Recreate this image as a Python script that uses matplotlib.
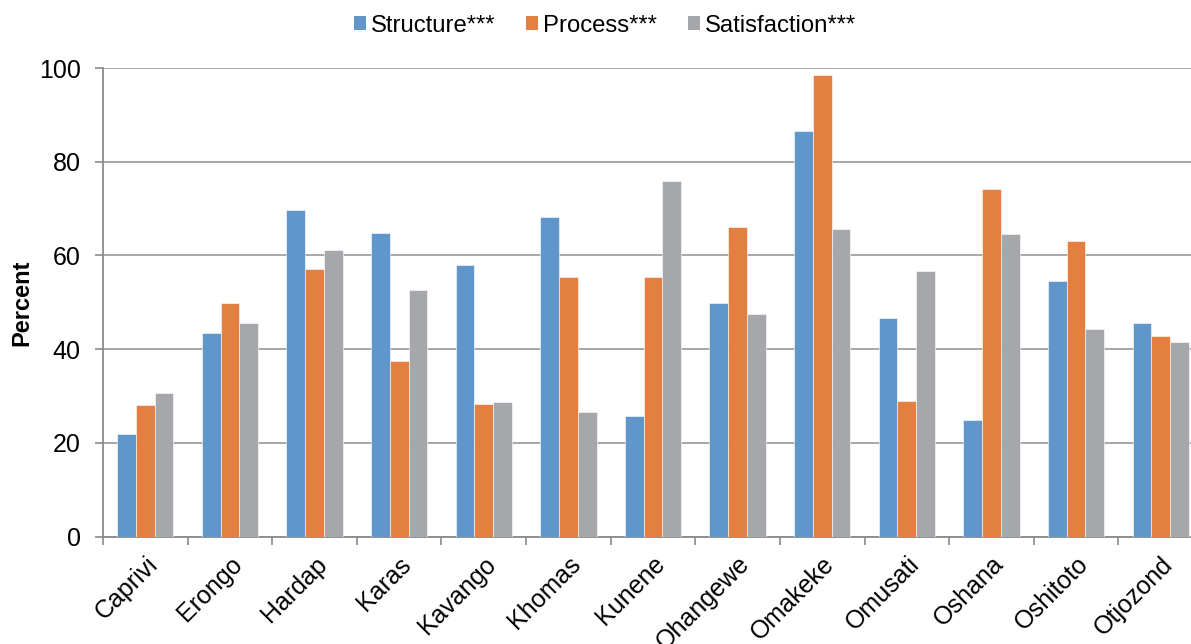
import matplotlib
matplotlib.use("Agg")
import matplotlib.pyplot as plt
import numpy as np
from matplotlib.patches import Patch

plt.rcParams['font.family'] = ['Liberation Sans', 'DejaVu Sans']

regions = ["Caprivi", "Erongo", "Hardap", "Karas", "Kavango", "Khomas", "Kunene",
           "Ohangewe", "Omakeke", "Omusati", "Oshana", "Oshitoto", "Otjozond"]
structure = [22.0, 43.4, 69.8, 64.9, 58.0, 68.3, 25.8, 49.9, 86.6, 46.7, 24.9, 54.5, 45.7]
process = [28.2, 49.8, 57.1, 37.4, 28.3, 55.5, 55.5, 66.0, 98.4, 28.9, 74.2, 63.1, 42.8]
satisfaction = [30.7, 45.7, 61.2, 52.6, 28.8, 26.5, 75.9, 47.5, 65.6, 56.6, 64.6, 44.3, 41.6]

series_names = ["Structure***", "Process***", "Satisfaction***"]
colors = ["#6196CA", "#E37F40", "#A6A7AA"]

fig = plt.figure(figsize=(11.91, 6.44), dpi=100)
W, H = 1191, 644
left, right, top, bottom = 103, 1203, 68, 536.7
ax = fig.add_axes([left / W, 1 - bottom / H, (right - left) / W, (bottom - top) / H])

x = np.arange(len(regions))
bw = 0.222
for i, (vals, c) in enumerate(zip([structure, process, satisfaction], colors)):
    ax.bar(x + (i - 1) * bw, vals, width=bw, color=c, edgecolor="white", linewidth=0.4, zorder=3)

ax.set_xlim(-0.5, len(regions) - 0.5)
ax.set_ylim(0, 100)
ax.set_yticks(np.arange(0, 101, 20))
ax.yaxis.grid(True, color="#A0A0A0", linewidth=1.3, zorder=0)
ax.set_axisbelow(True)

for s in ["top", "right"]:
    ax.spines[s].set_visible(False)
for s in ["left", "bottom"]:
    ax.spines[s].set_color("#8A8A8A")
    ax.spines[s].set_linewidth(1.3)

ax.tick_params(axis="y", length=6, width=1.2, color="#8A8A8A", labelsize=18, pad=10)
# category boundaries carry the ticks, labels sit at category centres
ax.set_xticks(np.arange(len(regions) + 1) - 0.5)
ax.set_xticklabels([])
ax.tick_params(axis="x", which="major", length=6, width=1.2, color="#8A8A8A")
ax.set_xticks(x, minor=True)
ax.set_xticklabels(regions, minor=True, rotation=45, ha="right", rotation_mode="anchor",
                   fontsize=18)
ax.tick_params(axis="x", which="minor", length=0, pad=11)

fig.text(22 / W, 1 - 302.5 / H, "Percent", rotation=90, ha="center", va="center",
         fontsize=17, fontweight="bold")

handles = [Patch(facecolor=c, edgecolor="none") for c in colors]
fig.legend(handles, series_names, loc="center", bbox_to_anchor=(605 / W, 1 - 25.5 / H),
           ncol=3, frameon=False, fontsize=17.2, handlelength=0.5, handleheight=0.5,
           handletextpad=0.2, columnspacing=1.3, borderpad=0)

fig.savefig("out.png", dpi=100)
